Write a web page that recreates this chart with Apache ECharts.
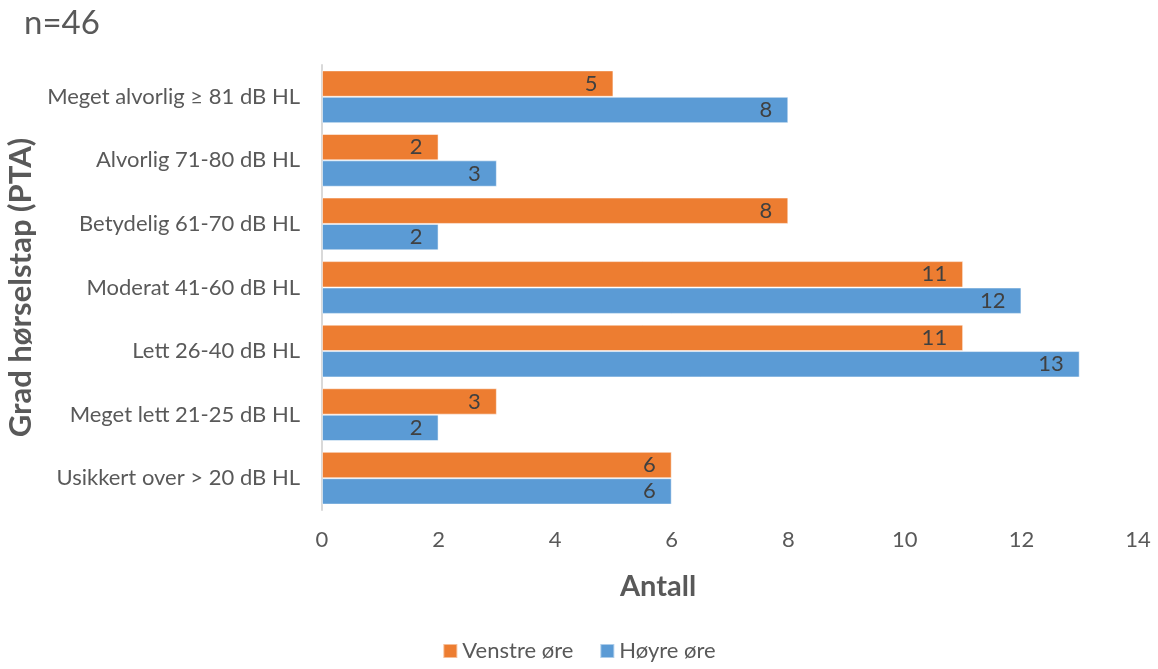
<!DOCTYPE html>
<html>
<head>
<meta charset="utf-8">
<script src="https://cdn.jsdelivr.net/npm/echarts@6/dist/echarts.min.js"></script>
<style>
  html, body { margin: 0; padding: 0; background: #fff; }
  #chart { width: 1158px; height: 669px; }
</style>
</head>
<body>
<div id="chart"></div>
<script>
// Degree of hearing loss (PTA) by ear
const categories = [
  'Meget alvorlig ≥ 81 dB HL',
  'Alvorlig 71-80 dB HL',
  'Betydelig 61-70 dB HL',
  'Moderat 41-60 dB HL',
  'Lett 26-40 dB HL',
  'Meget lett 21-25 dB HL',
  'Usikkert over > 20 dB HL'
];
const venstreOre = [5, 2, 8, 11, 11, 3, 6];
const hoyreOre = [8, 3, 2, 12, 13, 2, 6];
const seriesNames = ['Venstre øre', 'Høyre øre'];

const FONT = 'Lato, "Open Sans", sans-serif';
const TEXT = '#595959';

const chart = echarts.init(document.getElementById('chart'), null, { renderer: 'canvas' });

const barLabel = {
  show: true,
  position: 'insideRight',
  distance: 16,
  color: '#404040',
  fontFamily: FONT,
  fontSize: 22
};

chart.setOption({
  animation: false,
  backgroundColor: '#fff',
  title: {
    text: 'n=46',
    left: 19,
    top: 2,
    textStyle: { color: TEXT, fontFamily: FONT, fontSize: 33, fontWeight: 'normal' }
  },
  legend: {
    bottom: 2,
    left: 'center',
    itemWidth: 14,
    itemHeight: 14,
    itemGap: 26,
    icon: 'rect',
    textStyle: { color: TEXT, fontFamily: FONT, fontSize: 22 },
    data: seriesNames
  },
  grid: {
    left: 322, right: 20, top: 65, bottom: 159,
    containLabel: false,
    outerBoundsMode: 'none'
  },
  xAxis: {
    type: 'value',
    min: 0,
    max: 14,
    interval: 2,
    name: 'Antall',
    nameLocation: 'middle',
    nameGap: 62,
    nameTextStyle: {
      color: TEXT, fontFamily: FONT, fontSize: 29, fontWeight: 'bold',
      padding: [0, 144, 0, 0]
    },
    axisLine: { show: false },
    axisTick: { show: false },
    splitLine: { show: false },
    axisLabel: { color: TEXT, fontFamily: FONT, fontSize: 22, margin: 19 }
  },
  yAxis: {
    type: 'category',
    inverse: true,
    data: categories,
    name: 'Grad hørselstap (PTA)',
    nameLocation: 'middle',
    nameRotate: 90,
    nameGap: 286,
    nameTextStyle: { color: TEXT, fontFamily: FONT, fontSize: 31, fontWeight: 'bold' },
    axisLine: { show: true, lineStyle: { color: '#d9d9d9', width: 2 } },
    axisTick: { show: false },
    axisLabel: { color: TEXT, fontFamily: FONT, fontSize: 22, margin: 22 }
  },
  series: [
    {
      name: seriesNames[0],
      type: 'bar',
      data: venstreOre,
      barGap: '0%',
      barCategoryGap: '17%',
      itemStyle: { color: '#ED7D31', borderColor: 'rgba(255,255,255,0.5)', borderWidth: 1 },
      label: barLabel
    },
    {
      name: seriesNames[1],
      type: 'bar',
      data: hoyreOre,
      barGap: '0%',
      barCategoryGap: '17%',
      itemStyle: { color: '#5B9BD5', borderColor: 'rgba(255,255,255,0.5)', borderWidth: 1 },
      label: barLabel
    }
  ]
});
</script>
</body>
</html>
